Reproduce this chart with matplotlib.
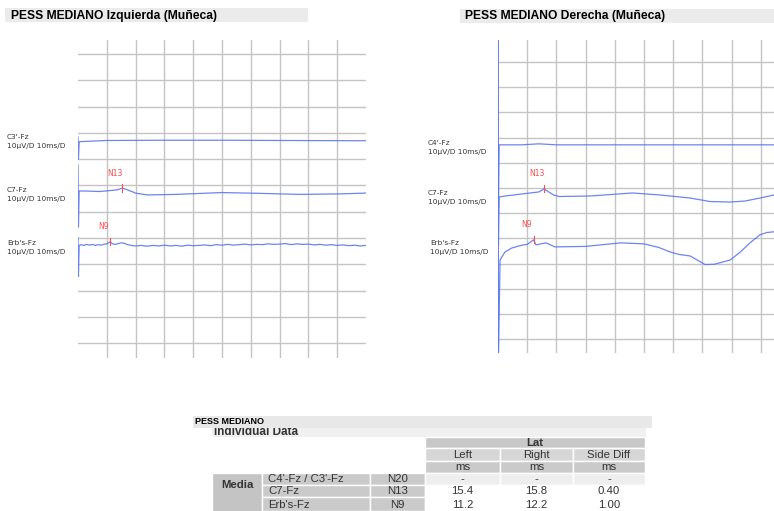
import numpy as np
import matplotlib
matplotlib.use("Agg")
import matplotlib.pyplot as plt
from matplotlib.patches import Rectangle

W, H = 774, 511

# ---- data read from the screen capture ----
# traces: time (ms), amplitude (uV) relative to each channel's baseline
left_c3_t = [0, 0.15, 0.4, 1.5, 10, 30, 50, 70, 100]
left_c3_uv = [1.4, -7.0, -0.4, -0.3, 0.1, 0.2, 0.2, 0.1, 0.0]

left_c7_t = [0, 0.15, 0.4, 2, 7.6, 13.5, 15.4, 17.5, 20, 24, 34, 50, 63, 77, 91, 100]
left_c7_uv = [9.9, -13.7, 0.0, 0.0, -0.2, 0.4, 1.1, 0.3, -0.8, -1.5, -1.3, -0.6, -0.9, -1.3, -1.1, -0.8]

left_erb_t = [0, 0.15, 0.4,
              1, 2, 3, 4, 5, 6, 7, 8, 9, 10,
              11.2, 12, 13, 14, 15, 16, 17, 18, 19, 20,
              22, 24, 26, 28, 30, 32, 34, 36, 38, 40,
              42, 44, 46, 48, 50, 52, 54, 56, 58, 60,
              62, 64, 66, 68, 70, 72, 74, 76, 78, 80,
              82, 84, 86, 88, 90, 92, 94, 96, 98, 100]
left_erb_uv = [2.7, -12.0, -0.2,
               0.1, -0.2, 0.2, -0.1, 0.2, -0.2, 0.1, -0.1, 0.2, 0.4,
               1.2, 0.4, 0.2, 0.5, 0.8, 0.6, 0.2, -0.1, -0.3, -0.4,
               -0.2, -0.5, -0.2, -0.4, -0.1, -0.4, -0.2, -0.5, -0.1, -0.3,
               -0.2, 0.0, -0.3, 0.1, -0.1, 0.2, -0.1, 0.1, 0.3, 0.0,
               0.2, 0.1, 0.4, 0.2, 0.3, 0.5, 0.1, 0.4, 0.2, 0.3,
               0.0, 0.2, -0.1, 0.1, -0.2, 0.0, -0.3, -0.1, -0.4, -0.2]

right_c4_t = [0, 0.15, 0.4, 8, 14, 20, 40, 94.5]
right_c4_uv = [45, -25, 0, 0, 0.4, 0, 0, 0]

right_c7_t = [0, 0.15, 0.4, 2.5, 11, 14, 15.8, 19, 21, 31.5, 46, 55.5, 65.8, 72.6, 79.5, 84.6, 89.7, 94.5]
right_c7_uv = [20, -20, -0.8, -0.4, 0.8, 1.2, 2.4, 0.0, -0.6, -0.4, 0.8, 0.0, -1.2, -2.6, -2.8, -2.4, -1.2, 0.0]

right_erb_t = [0, 0.15, 0.7, 2.4, 4.8, 8.6, 10, 12.2, 13, 16.4, 19.5, 30, 42, 50, 55,
               58.9, 62, 65.8, 70.9, 74, 79.5, 83, 86.3, 89.7, 92, 94.5]
right_erb_uv = [10, -45, -5.6, -2.4, -0.8, 0.4, 0.6, 2.4, 0.4, 1.2, -0.4, -0.2, 1.2, 0.8, -0.6,
                -2.4, -3.4, -4.0, -7.4, -7.3, -5.6, -2.4, 1.2, 4.4, 5.3, 5.6]

left_labels = ["C3'-Fz", "C7-Fz", "Erb's-Fz"]
right_labels = ["C4'-Fz", "C7-Fz", "Erb's-Fz"]
scale_label = "10µV/D 10ms/D"

# table
table_rows = ["C4'-Fz / C3'-Fz", "C7-Fz", "Erb's-Fz"]
table_peaks = ["N20", "N13", "N9"]
left_lat = [None, 15.4, 11.2]
right_lat = [None, 15.8, 12.2]

trace_col = "#5a78f0"
red = "#ff4d4d"
grid_col = "#c4c4c4"

fig = plt.figure(figsize=(W / 100, H / 100), dpi=100)
bg = fig.add_axes([0, 0, 1, 1])
bg.set_xlim(0, W)
bg.set_ylim(H, 0)
bg.axis("off")


def px_axes(x0, y0, x1, y1):
    ax = fig.add_axes([x0 / W, 1 - y1 / H, (x1 - x0) / W, (y1 - y0) / H])
    ax.set_facecolor("none")
    for s in ax.spines.values():
        s.set_visible(False)
    ax.tick_params(length=0, labelbottom=False, labelleft=False)
    return ax


def panel(ax, tmax, ytop, ybot, traces, offsets, lats):
    ax.set_xlim(0, tmax)
    ax.set_ylim(ybot, ytop)
    ax.set_xticks(np.arange(10, tmax, 10))
    ax.set_yticks(-10 * np.arange(12))
    ax.grid(True, color=grid_col, lw=1.0)
    ax.set_axisbelow(True)
    for (t, uv), off in zip(traces, offsets):
        ax.plot(t, np.array(uv) + off, color=trace_col, lw=0.9, alpha=0.9)
    # peak marks on C7 (N13) and Erb's (N9)
    for (t, uv), off, lat, name in zip(traces[1:], offsets[1:], lats[1:], ["N13", "N9"]):
        y = np.interp(lat, t, uv) + off
        ax.plot([lat, lat], [y - 1.4, y + 1.4], color=red, lw=0.8)
        ax.annotate(name, (lat, y), xytext=(-7, 15), textcoords="offset pixels",
                    color=red, fontsize=5.5, ha="center", va="center")


# left panel
bg.add_patch(Rectangle((5, 8), 303, 14, color="#ebebeb", lw=0))
bg.text(11, 15.5, "PESS MEDIANO Izquierda (Muñeca)", fontsize=8.7, fontweight="bold",
        family="Liberation Sans", va="center")
axL = px_axes(78, 40, 366, 358)
panel(axL, 100, 5.3, -115.6,
      [(left_c3_t, left_c3_uv), (left_c7_t, left_c7_uv), (left_erb_t, left_erb_uv)],
      [-33.0, -52.1, -72.6], [None, left_lat[1], left_lat[2]])
for lab, y in zip(left_labels, [137, 190, 243]):
    bg.text(7, y, lab, fontsize=5.3, color="#333333", va="center")
    bg.text(7, y + 9, scale_label, fontsize=5.3, color="#333333", va="center")

# right panel
bg.add_patch(Rectangle((460, 9), 314, 14, color="#ebebeb", lw=0))
bg.text(465, 16.5, "PESS MEDIANO Derecha (Muñeca)", fontsize=8.7, fontweight="bold",
        family="Liberation Sans", va="center")
axR = px_axes(498, 40, 774, 353)
panel(axR, 94.5, 8.7, -115.5,
      [(right_c4_t, right_c4_uv), (right_c7_t, right_c7_uv), (right_erb_t, right_erb_uv)],
      [-32.9, -52.8, -73.0], [None, right_lat[1], right_lat[2]])
axR.axvline(0.1, color=trace_col, lw=1.4, alpha=0.8)
for lab, x, y in zip(right_labels, [428, 428, 430], [143, 193, 243]):
    bg.text(x, y, lab, fontsize=5.3, color="#333333", va="center")
    bg.text(x, y + 9, scale_label, fontsize=5.3, color="#333333", va="center")

# ---- table ----
tf = "Liberation Sans"


def cell(x0, x1, y0, y1, col, text="", bold=False, ha="center", size=8.2):
    bg.add_patch(Rectangle((x0, y0), x1 - x0, y1 - y0, facecolor=col, edgecolor="white", lw=1))
    if text:
        tx = (x0 + x1) / 2 if ha == "center" else x0 + 6
        bg.text(tx, (y0 + y1) / 2 + 0.5, text, fontsize=size, family=tf, ha=ha, va="center",
                fontweight="bold" if bold else "normal", color="#333333")


bg.text(214, 432, "Individual Data", fontsize=8.5, family=tf, fontweight="bold",
        color="#333333", va="center", zorder=1)
bg.add_patch(Rectangle((212, 428), 434, 9, facecolor="#f0f0f0", lw=0, zorder=0.5))
bg.add_patch(Rectangle((193, 416), 459, 12, facecolor="#e8e8e8", lw=0, zorder=2))
bg.text(195, 421.5, "PESS MEDIANO", fontsize=6.5, family=tf, fontweight="bold",
        va="center", zorder=3)

cell(425, 645, 437, 448.5, "#c8c8c8", "Lat", bold=True)
col_x = [425, 500, 573, 645]
for i, name in enumerate(["Left", "Right", "Side Diff"]):
    cell(col_x[i], col_x[i + 1], 448.5, 461, "#d6d6d6", name)
    cell(col_x[i], col_x[i + 1], 461, 473, "#cacaca", "ms")

row_y = [473, 485, 497, 511]
cell(212, 262, 473, 513, "#c4c4c4")
bg.text(237, 484.5, "Media", fontsize=8.2, family=tf, fontweight="bold", ha="center",
        va="center", color="#333333")
for r in range(3):
    y0, y1 = row_y[r], row_y[r + 1]
    cell(262, 370, y0, y1, "#cacaca", table_rows[r], ha="left")
    cell(370, 425, y0, y1, "#cacaca", table_peaks[r])
    vcol = "#eeeeee" if r == 0 else "white"
    if left_lat[r] is None:
        vals = ["-", "-", "-"]
    else:
        vals = [f"{left_lat[r]:.1f}", f"{right_lat[r]:.1f}",
                f"{abs(right_lat[r] - left_lat[r]):.2f}"]
    for i in range(3):
        cell(col_x[i], col_x[i + 1], y0, y1, vcol, vals[i])

fig.savefig("out.png", dpi=100)
